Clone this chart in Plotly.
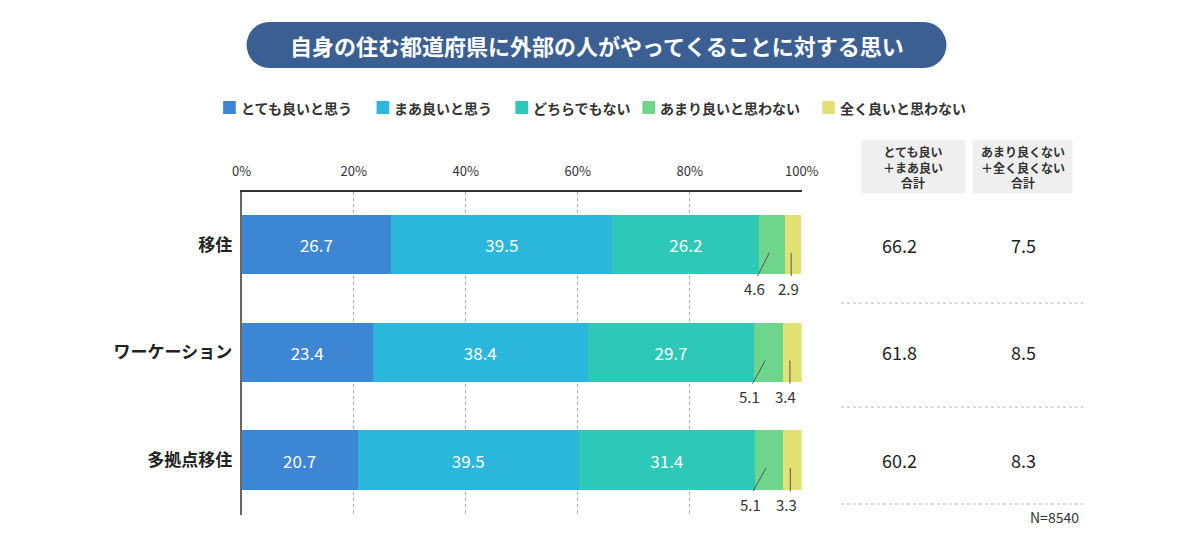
import plotly.graph_objects as go

categories = ["移住", "ワーケーション", "多拠点移住"]
series_names = ["とても良いと思う", "まあ良いと思う", "どちらでもない", "あまり良いと思わない", "全く良いと思わない"]
very_good = [26.7, 23.4, 20.7]
fairly_good = [39.5, 38.4, 39.5]
neutral = [26.2, 29.7, 31.4]
not_very = [4.6, 5.1, 5.1]
not_at_all = [2.9, 3.4, 3.3]
good_total = [66.2, 61.8, 60.2]
bad_total = [7.5, 8.5, 8.3]
tick_vals = [0, 20, 40, 60, 80, 100]
tick_text = ["0%", "20%", "40%", "60%", "80%", "100%"]
title_text = "自身の住む都道府県に外部の人がやってくることに対する思い"
header_good = "とても良い<br>＋まあ良い<br>合計"
header_bad = "あまり良くない<br>＋全く良くない<br>合計"
n_text = "N=8540"

colors = ["#3d86d3", "#2bb7dc", "#2dc8b8", "#6fd58c", "#e1e174"]
FONT = "Noto Sans CJK JP"

W, H = 1200, 548
def px(x):
    return x / W
def py(y):
    return 1 - y / H

series = [very_good, fairly_good, neutral, not_very, not_at_all]
fig = go.Figure()
for i, (name, vals) in enumerate(zip(series_names, series)):
    inside = i < 3
    fig.add_trace(go.Bar(
        y=categories, x=vals, name=name, orientation="h",
        marker=dict(color=colors[i], line=dict(width=0)),
        text=[f"{v:.1f}" if inside else "" for v in vals],
        textposition="inside", insidetextanchor="middle",
        textfont=dict(color="white", size=17, family=FONT),
        showlegend=False, hoverinfo="skip",
    ))

shapes = []
annotations = []

def ann(text, xref, yref, x, y, size, color="#333", xanchor="center", yanchor="middle", align="center"):
    annotations.append(dict(text=text, xref=xref, yref=yref, x=x, y=y, xanchor=xanchor, yanchor=yanchor,
                            align=align, showarrow=False, font=dict(color=color, size=size, family=FONT)))

# title pill
PILL = "#3b5f93"
shapes.append(dict(type="rect", xref="paper", yref="paper", x0=px(265), x1=px(935), y0=py(68), y1=py(22),
                   fillcolor=PILL, line=dict(width=0), layer="below"))
for cx in (265, 935):
    shapes.append(dict(type="circle", xref="paper", yref="paper", x0=px(cx - 23), x1=px(cx + 23), y0=py(68), y1=py(22),
                       fillcolor=PILL, line=dict(width=0), layer="below"))
ann(f"<b>{title_text}</b>", "paper", "paper", px(600), py(45), 22, color="white")

# custom legend
leg_x = [218, 375, 517, 647, 831]
for i, name in enumerate(series_names):
    x0 = leg_x[i]
    shapes.append(dict(type="rect", xref="paper", yref="paper", x0=px(x0), x1=px(x0 + 13), y0=py(114), y1=py(101),
                       fillcolor=colors[i], line=dict(width=0)))
    ann(f"<b>{name}</b>", "paper", "paper", px(x0 + 16), py(107.5), 14, xanchor="left")

# small-segment labels with leader lines
for j, cat in enumerate(categories):
    start4 = very_good[j] + fairly_good[j] + neutral[j]
    start5 = start4 + not_very[j]
    shapes.append(dict(type="line", xref="x", yref="y", x0=start4 + not_very[j] * 0.39, y0=j + 0.075,
                       x1=start4 - 0.3, y1=j + 0.29, line=dict(color="#555", width=1)))
    ann(f"{not_very[j]:.1f}", "x", "y", start4 - 0.8, j + 0.41, 15)
    xm = start5 + not_at_all[j] * 0.38
    shapes.append(dict(type="line", xref="x", yref="y", x0=xm, y0=j + 0.075, x1=xm, y1=j + 0.29,
                       line=dict(color="#555", width=1)))
    ann(f"{not_at_all[j]:.1f}", "x", "y", start5 + 0.55, j + 0.41, 15)

# right table headers
for (x0, x1, txt) in ((871, 977, header_good), (985, 1087, header_bad)):
    shapes.append(dict(type="rect", xref="paper", yref="paper", x0=px(x0), x1=px(x1), y0=py(193), y1=py(140),
                       fillcolor="#efefef", line=dict(width=0), layer="below"))
    ann(f"<b>{txt}</b>", "paper", "paper", px((x0 + x1) / 2), py(167), 12)

# right table values
for j, cat in enumerate(categories):
    ann(f"{good_total[j]:.1f}", "paper", "y", px(910), j, 18, color="#222")
    ann(f"{bad_total[j]:.1f}", "paper", "y", px(1037), j, 18, color="#222")

# dotted separators in the right table
for ysep in (303, 407, 504):
    shapes.append(dict(type="line", xref="paper", yref="paper", x0=px(850), x1=px(1098), y0=py(ysep), y1=py(ysep),
                       line=dict(color="#b5b5b5", width=1, dash="dot")))

ann(n_text, "paper", "paper", px(1096), py(517), 14, xanchor="right")

fig.update_layout(
    width=W, height=H,
    margin=dict(l=0, r=0, t=0, b=0),
    paper_bgcolor="white", plot_bgcolor="white",
    barmode="stack", bargap=0.45,
    font=dict(family=FONT, color="#333"),
    shapes=shapes, annotations=annotations,
    xaxis=dict(domain=[px(237), px(810)], range=[0, 100], side="top",
               tickvals=tick_vals, ticktext=tick_text, tickfont=dict(size=13, color="#333", family=FONT),
               showgrid=True, griddash="dot", gridcolor="#aaaaaa", gridwidth=1,
               showline=True, linecolor="#333", linewidth=1.5, zeroline=False, ticks="", ticklabelstandoff=9,
               fixedrange=True),
    yaxis=dict(domain=[py(515), py(192)], range=[2.51, -0.49], categoryorder="array", categoryarray=categories,
               tickfont=dict(size=17, color="#222", family=FONT),
               tickvals=categories, ticktext=[f"<b>{c}</b>" for c in categories],
               showline=True, linecolor="#666", linewidth=2, showgrid=False, zeroline=False,
               ticks="", ticklabelstandoff=4, fixedrange=True),
)

fig.write_html("out.html", config={"displayModeBar": False},
               post_script="document.body.style.margin='0';document.body.style.overflow='hidden';")
